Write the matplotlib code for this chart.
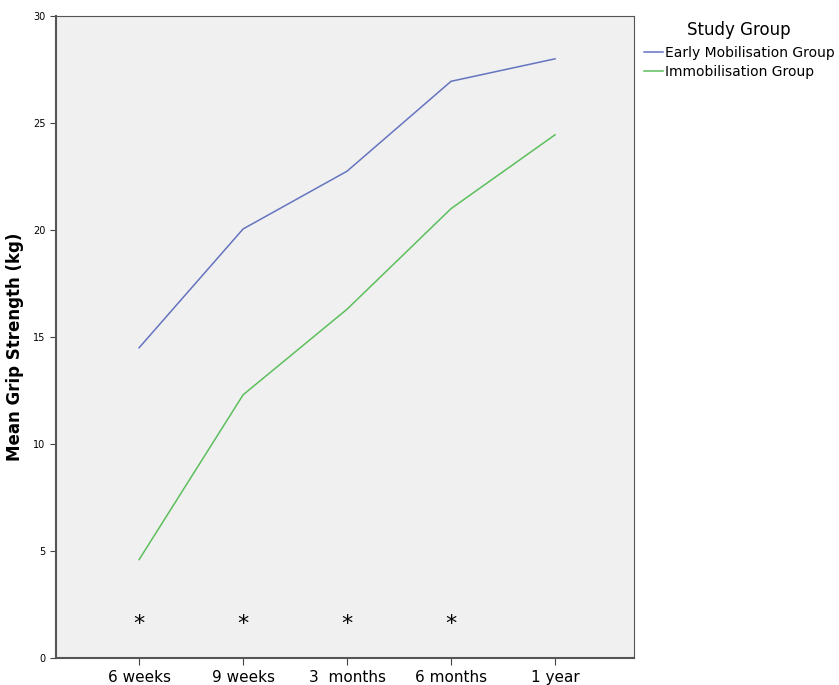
import numpy as np
import matplotlib.pyplot as plt

timepoints = ["6 weeks", "9 weeks", "3  months", "6 months", "1 year"]
early = [14.5, 20.05, 22.75, 26.95, 28.0]
immob = [4.6, 12.3, 16.3, 21.0, 24.45]
signif = [0, 1, 2, 3]
star_y = 1.6

fig = plt.figure(figsize=(8.39, 6.85), dpi=100)
ax = fig.add_axes([0.0667, 0.0394, 0.689, 0.9372])
ax.set_facecolor("#f0f0f1")

x = np.arange(len(timepoints))
ax.plot(x, early, color="#6574bf", lw=1.1, label="Early Mobilisation Group")
ax.plot(x, immob, color="#5cbf5c", lw=1.1, label="Immobilisation Group")

for i in signif:
    ax.text(x[i], star_y, "*", ha="center", va="center", fontsize=16)

ax.set_xlim(-0.8, 4.76)
ax.set_ylim(0, 30)
ax.set_yticks([0, 5, 10, 15, 20, 25, 30])
ax.set_xticks(x)
ax.set_xticklabels(timepoints, fontsize=11)
ax.tick_params(axis="y", labelsize=7, length=4, color="#444444")
ax.tick_params(axis="x", length=5, color="#444444")
ax.set_ylabel("Mean Grip Strength (kg)", fontsize=12, fontweight="bold")
ax.yaxis.set_label_coords(-0.055, 0.485)

for s in ["left", "bottom"]:
    ax.spines[s].set_color("#555555")
    ax.spines[s].set_linewidth(1.5)
for s in ["top", "right"]:
    ax.spines[s].set_color("#555555")
    ax.spines[s].set_linewidth(0.8)

leg = ax.legend(loc="upper left", bbox_to_anchor=(0.995, 1.012), frameon=False,
                title="Study Group", fontsize=10, title_fontsize=12,
                handlelength=1.4, handletextpad=0.15, labelspacing=0.35)
leg._legend_box.sep = 5

fig.savefig("out.png", dpi=100)
